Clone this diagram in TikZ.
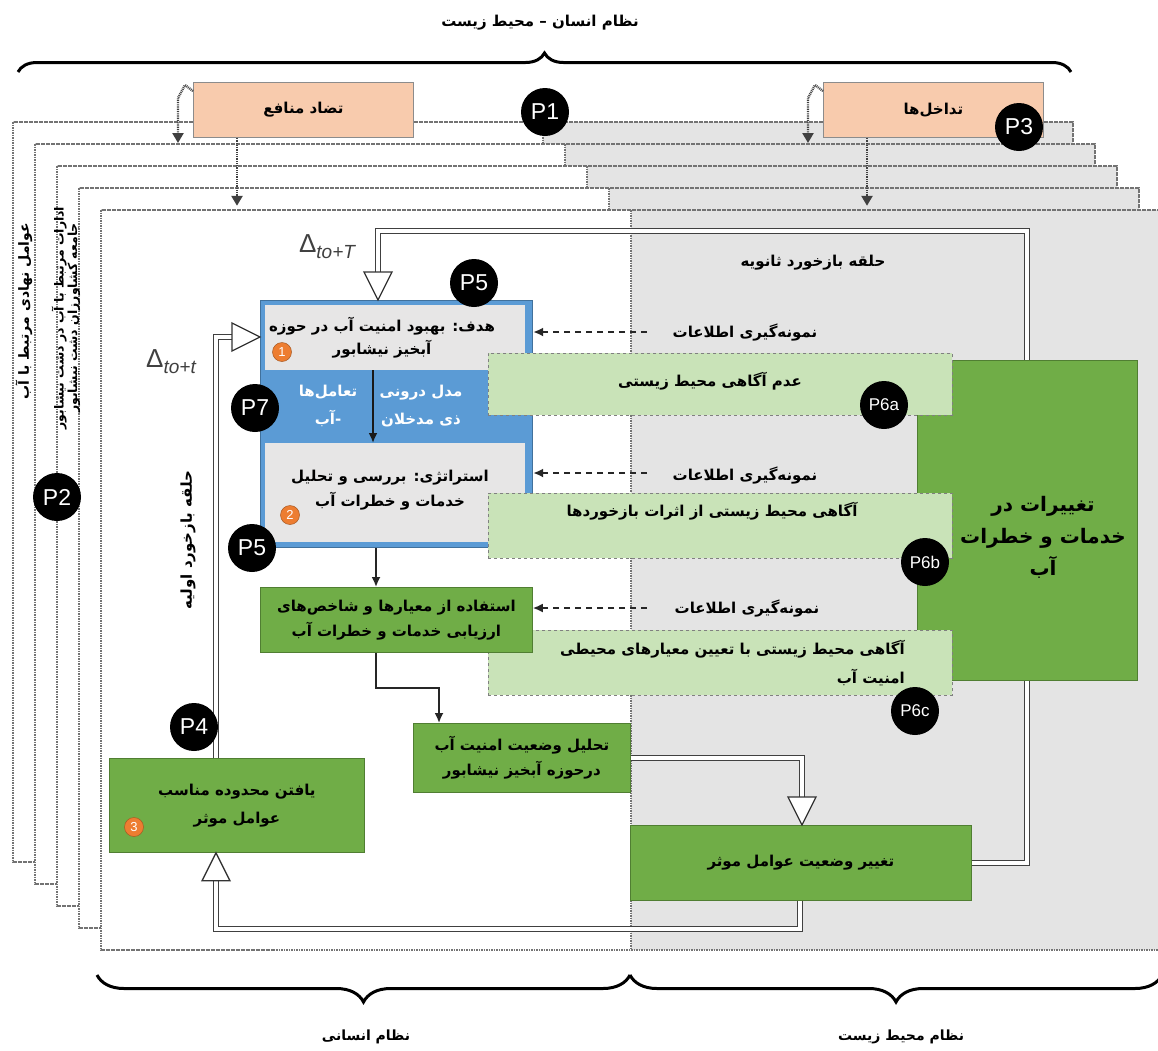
\documentclass[tikz,border=0pt]{standalone}
\usepackage{fontspec}
\setmainfont{DejaVu Sans}
\newfontfamily\fa[Script=Arabic]{DejaVu Sans}
\newfontfamily\lat{Liberation Sans}
\TeXXeTstate=1
\usetikzlibrary{arrows.meta,decorations.pathreplacing,calc}
\newcommand\faR[1]{\beginR #1\endR}
\definecolor{orfill}{HTML}{F8CBAD}
\definecolor{bluef}{HTML}{5B9BD5}
\definecolor{blued}{HTML}{41719C}
\definecolor{greyin}{HTML}{E7E6E6}
\definecolor{dkgreen}{HTML}{70AD47}
\definecolor{dkgreenb}{HTML}{507E32}
\definecolor{ltgreen}{HTML}{C9E3B8}
\definecolor{laygrey}{HTML}{E4E4E4}
\definecolor{orbadge}{HTML}{ED7D31}
\tikzset{
 fa/.style={font=\fa\bfseries\fontsize{15}{25}\selectfont, align=center, inner sep=0pt},
 frm/.style={draw=black!55, line width=1.3pt, dash pattern=on 1.6pt off 0.9pt},
 obox/.style={draw=black!45, line width=0.8pt, fill=orfill},
 dgbox/.style={draw=dkgreenb, line width=0.8pt, fill=dkgreen},
 lgbox/.style={draw=black!50, line width=0.8pt, dashed, fill=ltgreen},
 gbox/.style={fill=greyin, draw=none},
 pb/.style={circle, fill=black, text=white, inner sep=0pt, minimum size=48pt, font=\lat\fontsize{23}{23}\selectfont},
 pbs/.style={pb, font=\lat\fontsize{17}{17}\selectfont},
 ob/.style={circle, fill=orbadge, draw=orbadge!70!black, line width=0.5pt, text=white, inner sep=0pt, minimum size=19pt, font=\lat\fontsize{13}{13}\selectfont},
 dbl/.style={draw=black!75, line width=1.3pt, double=white, double distance=3.4pt, line join=miter},
 ohd/.pic={\filldraw[fill=white,draw=black!80,line width=1.3pt,line join=miter] (0,0) -- (-14,-28) -- (14,-28) -- cycle;},
 sar/.style={draw=black!85, line width=1.8pt, -{Latex[length=10pt,width=9pt]}},
 dsh/.style={draw=black!85, line width=1.8pt, dash pattern=on 6pt off 5pt, -{Latex[length=10pt,width=9pt]}},
 dotar/.style={draw=black!75, line width=2.4pt, dash pattern=on 0.9pt off 0.9pt, -{Triangle[length=10pt,width=11pt]}},
 brc/.style={draw=black, line width=3pt, decorate, decoration={brace, amplitude=#1}},
 dlt/.style={font=\lat\fontsize{26}{26}\selectfont, text=black!75, inner sep=0pt},
}
\newcommand\dsub[1]{\raisebox{-0.45ex}{\fontsize{19}{19}\selectfont\itshape #1}}
\begin{document}
\begin{tikzpicture}[x=1pt,y=-1pt]
\fill[white] (0,0) rectangle (1158,1050);
\useasboundingbox (0,0) rectangle (1158,1050);

% stacked layers
\foreach \i in {0,...,4}{
 \pgfmathsetmacro\lyL{13+22*\i}
 \pgfmathsetmacro\lyT{122+22*\i}
 \pgfmathsetmacro\lyRt{1073+22*\i}
 \pgfmathsetmacro\lyB{862+22*\i}
 \pgfmathsetmacro\lyG{543+22*\i}
 \fill[white] (\lyL,\lyT) rectangle (\lyG,\lyB);
 \fill[laygrey] (\lyG,\lyT) rectangle (\lyRt,\lyB);
 \draw[frm] (\lyL,\lyT) rectangle (\lyRt,\lyB);
 \draw[frm] (\lyG,\lyT) -- (\lyG,\lyB);
}

% braces and system labels
\draw[brc=19pt] (18,72) -- (1071,72);
\node[fa] (title) at (540,23) {\faR{نظام انسان – محیط زیست}};
\draw[brc=27pt, decoration={mirror}] (97,975) -- (630,975);
\draw[brc=27pt, decoration={mirror}] (630,975) -- (1162,975);
\node[fa, font=\fa\bfseries\fontsize{14}{16}\selectfont] (hum) at (366,1037) {\faR{نظام انسانی}};
\node[fa, font=\fa\bfseries\fontsize{14}{16}\selectfont] (env) at (901,1037) {\faR{نظام محیط زیست}};

% orange boxes
\node[obox, fa, minimum width=220pt, minimum height=55pt, anchor=north west] (orA) at (193,82) {\faR{تضاد منافع}};
\node[obox, fa, minimum width=220pt, minimum height=55pt, anchor=north west] (orB) at (823,82) {\faR{تداخل‌ها}};
\draw[dotar] ($(orA.north west)+(0,9)$) -- ++(-8,-6) -- ++(-7,13) -- ++(0,45);
\draw[dotar] ($(orA.south west)+(44,0)$) -- ++(0,68);
\draw[dotar] ($(orB.north west)+(0,9)$) -- ++(-8,-6) -- ++(-7,13) -- ++(0,45);
\draw[dotar] ($(orB.south west)+(44,0)$) -- ++(0,68);

% left vertical labels
\node[fa, rotate=90, font=\fa\bfseries\fontsize{14}{14}\selectfont] (inst) at (24,311) {\faR{عوامل نهادی مرتبط با آب}};
\node[fa, rotate=90, font=\fa\bfseries\fontsize{12.5}{11.5}\selectfont] (offc) at (66,318) {\faR{ادارات مرتبط با آب در دشت نیشابور}\\\faR{جامعه کشاورزان دشت نیشابور}};

% loop labels
\node[fa, rotate=90] (lp1) at (188,540) {\faR{حلقه بازخورد اولیه}};
\node[fa] (lp2) at (813,263) {\faR{حلقه بازخورد ثانویه}};

% process boxes (geometry)
\node[dgbox, fa, minimum width=341pt, minimum height=75pt, anchor=north west] (chg) at (630,825) {\faR{تغییر وضعیت عوامل موثر}};
\node[fill=bluef, draw=blued, line width=1.2pt, minimum width=272pt, minimum height=247pt, anchor=north west, inner sep=0pt] (blue) at (260,300) {};

% secondary feedback loop (behind the big green box)
\coordinate (s2) at (1027,231);
\coordinate (tipT) at ($(blue.north west)+(118,0)$);
\draw[dbl] (chg.east) -| (s2) -| ($(tipT)+(0,-27)$);
\pic at (tipT) {ohd};

% big green box
\node[dgbox, minimum width=220pt, minimum height=320pt, anchor=north west] (big) at (917,360) {};
\node[fa, font=\fa\bfseries\fontsize{20}{32}\selectfont] (bigt) at (1043,537) {\faR{تغییرات در}\\\faR{خدمات و خطرات}\\\faR{آب}};

% blue strategy block contents
\node[gbox, minimum width=260pt, minimum height=65pt, anchor=north west] (g1) at (265,305) {};
\node[gbox, minimum width=260pt, minimum height=99pt, anchor=north west] (g2) at (265,443) {};
\node[fa, font=\fa\bfseries\fontsize{15}{23}\selectfont] (g1t) at (382,338) {\faR{هدف: بهبود امنیت آب در حوزه}\\\faR{آبخیز نیشابور}};
\node[fa] (g2t) at (390,490) {\faR{استراتژی: بررسی و تحلیل}\\\faR{خدمات و خطرات آب}};
\node[fa, text=white, font=\fa\bfseries\fontsize{15}{28}\selectfont] (bandR) at (421,406) {\faR{مدل درونی}\\\faR{ذی مدخلان}};
\node[fa, text=white, font=\fa\bfseries\fontsize{15}{28}\selectfont] (bandL) at (328,406) {\faR{تعامل‌ها}\\\faR{-آب}};
\coordinate (bx) at (373,0);
\draw[draw=black!90, line width=2pt, -{Latex[length=10pt,width=9pt]}] (g1.south -| bx) -- (g2.north -| bx);

% light green awareness boxes
\node[lgbox, minimum width=464pt, minimum height=62pt, anchor=north west] (lg1) at (488,353) {};
\node[lgbox, minimum width=464pt, minimum height=65pt, anchor=north west] (lg2) at (488,493) {};
\node[lgbox, minimum width=464pt, minimum height=65pt, anchor=north west] (lg3) at (488,630) {};
\node[fa] (lg1t) at (710,381) {\faR{عدم آگاهی محیط زیستی}};
\node[fa] (lg2t) at (712,511) {\faR{آگاهی محیط زیستی از اثرات بازخوردها}};
\node[fa, align=right, anchor=east, font=\fa\bfseries\fontsize{15}{29}\selectfont] (lg3t) at (905,663) {\faR{آگاهی محیط زیستی با تعیین معیارهای محیطی}\\\faR{امنیت آب}};

% other green process boxes
\node[dgbox, fa, minimum width=272pt, minimum height=65pt, anchor=north west] (use) at (260,587) {\faR{استفاده از معیارها و شاخص‌های}\\\faR{ارزیابی خدمات و خطرات آب}};
\node[dgbox, fa, minimum width=217pt, minimum height=69pt, anchor=north west] (tahl) at (413,723) {\faR{تحلیل وضعیت امنیت آب}\\\faR{درحوزه آبخیز نیشابور}};
\node[dgbox, fa, font=\fa\bfseries\fontsize{15}{28}\selectfont, minimum width=255pt, minimum height=94pt, anchor=north west] (find) at (109,758) {\faR{یافتن محدوده مناسب}\\\faR{عوامل موثر}};

% single arrows
\draw[sar] ($(blue.south west)+(116,0)$) -- ($(use.north west)+(116,0)$);
\draw[sar] ($(use.south west)+(116,0)$) -- ++(0,35) -| ($(tahl.north west)+(26,0)$);

% primary feedback loop and result arrow
\coordinate (pl) at (216,929);
\coordinate (fS) at (find.south -| pl);
\coordinate (fN) at (find.north -| pl);
\coordinate (e1) at (0,337);
\coordinate (bW) at (blue.west |- e1);
\draw[dbl] ($(chg.south west)+(170,0)$) |- (pl) -- ($(fS)+(0,27)$);
\pic[rotate=180] at (fS) {ohd};
\draw[dbl] (fN) |- ($(bW)+(-27,0)$);
\pic[rotate=90] at (bW) {ohd};

\coordinate (c1) at (802,0);
\coordinate (cN) at (chg.north -| c1);
\draw[dbl] (tahl.east) -| ($(cN)+(0,-27)$);
\pic at (cN) {ohd};

% delta labels
\node[dlt] (dT) at (327,247) {Δ\dsub{to+T}};
\node[dlt] (dt) at (171,362) {Δ\dsub{to+t}};

% sampling arrows
\coordinate (d1) at (647,332);
\coordinate (d2) at (647,473);
\coordinate (d3) at (647,608);
\draw[dsh] (d1) -- (d1 -| blue.east);
\draw[dsh] (d2) -- (d2 -| blue.east);
\draw[dsh] (d3) -- (d3 -| use.east);
\node[fa] (sm1) at (745,332) {\faR{نمونه‌گیری اطلاعات}};
\node[fa] (sm2) at (745,475) {\faR{نمونه‌گیری اطلاعات}};
\node[fa] (sm3) at (747,608) {\faR{نمونه‌گیری اطلاعات}};

% number badges
\node[ob] (n1) at (282,352) {1};
\node[ob] (n2) at (290,515) {2};
\node[ob] (n3) at (134,827) {3};

% P badges
\node[pb] (P1) at (545,112) {P1};
\node[pb] (P2) at (57,497) {P2};
\node[pb] (P3) at (1019,127) {P3};
\node[pb] (P4) at (194,727) {P4};
\node[pb] (P5a) at (474,283) {P5};
\node[pb] (P5b) at (252,548) {P5};
\node[pb] (P7) at (255,408) {P7};
\node[pbs] (P6a) at (884,405) {P6a};
\node[pbs] (P6b) at (925,562) {P6b};
\node[pbs] (P6c) at (915,711) {P6c};
\end{tikzpicture}
\end{document}
